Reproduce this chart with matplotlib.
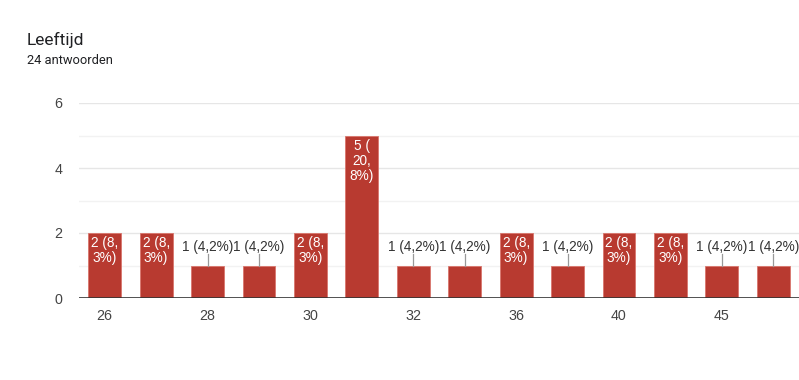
import matplotlib
matplotlib.use('Agg')
import matplotlib.pyplot as plt

# Leeftijd (age) answers from the form
ages = ['26', '27', '28', '29', '30', '31', '32', '34', '36', '38', '40', '42', '45', '48']
counts = [2, 2, 1, 1, 2, 5, 1, 1, 2, 1, 2, 2, 1, 1]
labels_in = ['2 (8,\n3%)', '2 (8,\n3%)', '1 (4,2%)', '1 (4,2%)', '2 (8,\n3%)',
             '5 (\n20,\n8%)', '1 (4,2%)', '1 (4,2%)', '2 (8,\n3%)', '1 (4,2%)',
             '2 (8,\n3%)', '2 (8,\n3%)', '1 (4,2%)', '1 (4,2%)']
tick_labels = ['26', '', '28', '', '30', '', '32', '', '36', '', '40', '', '45', '']

BAR = '#b83a30'
plt.rcParams['font.family'] = ['Liberation Sans', 'DejaVu Sans']

fig = plt.figure(figsize=(7.99, 3.8), dpi=100)
fig.patch.set_facecolor('white')
ax = fig.add_axes([79 / 799, 1 - 298 / 380, 720 / 799, 195 / 380])

x = list(range(len(ages)))
ax.bar(x, counts, width=0.64, color=BAR, edgecolor='#d9756c', linewidth=0.6, zorder=3)

ax.set_xlim(-0.5, len(ages) - 0.5)
ax.set_ylim(0, 6)

# grid: major every 2, minor in between
for v in [1, 3, 5]:
    ax.axhline(v, color='#f2f2f2', linewidth=1.0, zorder=1)
for v in [2, 4, 6]:
    ax.axhline(v, color='#e6e6e6', linewidth=1.0, zorder=1)
ax.axhline(0, color='#333333', linewidth=1.2, zorder=4)

for xi, c, lab in zip(x, counts, labels_in):
    if c >= 2:
        ax.text(xi, c - 0.1, lab, ha='center', va='top', fontsize=9.8,
                color='white', linespacing=1.1, zorder=5)
    else:
        ax.plot([xi, xi], [c, c + 0.36], color='#999999', linewidth=0.9, zorder=4)
        ax.text(xi, c + 0.58, lab, ha='center', va='center', fontsize=9.8,
                color='#333333', zorder=5)

for s in ax.spines.values():
    s.set_visible(False)
ax.set_xticks(x)
ax.set_xticklabels(tick_labels)
ax.set_yticks([0, 2, 4, 6])
ax.tick_params(axis='both', length=0, labelsize=10.3, colors='#444444')
ax.tick_params(axis='x', pad=8)
ax.tick_params(axis='y', pad=12)

fig.text(27 / 799, 1 - 40 / 380, 'Leeftijd', fontsize=12.5, color='#202124', va='center',
         family=['Roboto', 'DejaVu Sans'])
fig.text(27 / 799, 1 - 61 / 380, '24 antwoorden', fontsize=9.3, color='#202124', va='center',
         family=['Roboto', 'DejaVu Sans'])

fig.savefig('out.png', dpi=100, facecolor='white')
